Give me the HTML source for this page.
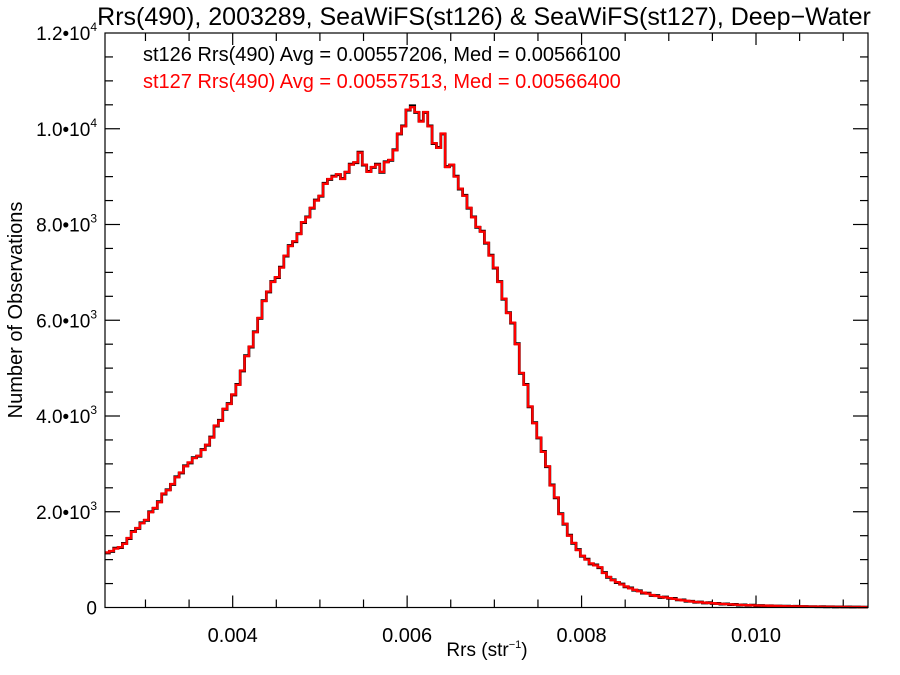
<!DOCTYPE html>
<html><head><meta charset="utf-8"><style>
html,body{margin:0;padding:0;background:#fff;}
svg{display:block;font-family:"Liberation Sans",sans-serif;}
</style></head><body>
<svg id="chart" width="900" height="675" viewBox="0 0 900 675">
<text x="484" y="25" font-size="25" text-anchor="middle">Rrs(490), 2003289, SeaWiFS(st126) &amp; SeaWiFS(st127), Deep−Water</text>
<text x="143" y="61" font-size="20" fill="#000">st126 Rrs(490) Avg = 0.00557206, Med = 0.00566100</text>
<text x="143" y="88" font-size="20" fill="#ff0000">st127 Rrs(490) Avg = 0.00557513, Med = 0.00566400</text>
<text x="487" y="656" font-size="19" text-anchor="middle">Rrs (str<tspan font-size="11" dy="-8">−1</tspan><tspan dy="8">)</tspan></text>
<text transform="translate(22,310) rotate(-90)" font-size="20" text-anchor="middle">Number of Observations</text>
<g id="axes"></g>
<g id="series"></g>
<rect x="105" y="33" width="763" height="574.5" fill="none" stroke="#000" stroke-width="1.2"/>
</svg>
<script>
const binStart = 0.002536;
const binWidth = 0.00005;
const xTicks = [0.004, 0.006, 0.008, 0.010];
const xTickLabels = ["0.004", "0.006", "0.008", "0.010"];
const yTicks = [0, 2000, 4000, 6000, 8000, 10000, 12000];
const yTickMant = ["0", "2.0", "4.0", "6.0", "8.0", "1.0", "1.2"];
const yTickExp = ["", "3", "3", "3", "3", "4", "4"];
const st127Counts = [1150,1180,1230,1260,1330,1450,1580,1660,1760,1830,1990,2080,2200,2380,2450,2580,2720,2820,2950,3030,
3120,3170,3290,3400,3550,3800,3900,4150,4250,4450,4650,4950,5250,5450,5750,6050,6400,6600,6800,6900,
7100,7350,7550,7650,7800,8050,8150,8350,8500,8600,8850,8950,9000,9050,8950,9100,9250,9300,9500,9250,
9100,9200,9250,9100,9300,9350,9550,9900,10050,10400,10450,10350,10150,10350,10050,9700,9600,9900,9200,9250,
9000,8750,8600,8350,8150,7950,7850,7620,7350,7100,6800,6450,6150,5950,5500,4900,4650,4200,3850,3550,
3250,2950,2550,2300,1950,1750,1500,1350,1200,1080,1000,920,880,840,720,640,570,530,480,440,
400,370,340,310,290,260,240,220,210,195,180,165,150,140,125,115,110,100,95,90,
80,75,70,65,60,55,50,48,45,42,40,38,35,33,30,28,26,25,24,22,
20,19,18,17,16,15,14,13,12,12,11,10,10,9,8];
const st126Counts = [1140,1170,1240,1250,1340,1440,1590,1650,1770,1820,2000,2070,2210,2370,2460,2570,2730,2810,2960,3020,
3130,3160,3300,3390,3560,3790,3910,4140,4260,4440,4660,4940,5260,5440,5760,6040,6410,6590,6810,6890,
7110,7340,7560,7640,7810,8040,8160,8340,8510,8590,8860,8940,9010,9040,8960,9090,9260,9290,9510,9240,
9110,9190,9260,9090,9310,9340,9560,9890,10060,10390,10480,10340,10160,10340,10060,9690,9610,9890,9210,9240,
9010,8740,8610,8340,8160,7940,7860,7610,7360,7090,6810,6440,6160,5940,5510,4890,4660,4190,3860,3540,
3260,2940,2560,2290,1960,1740,1510,1340,1210,1070,1010,910,890,830,730,630,580,520,490,430,
410,360,350,300,300,250,250,210,220,190,190,160,160,130,130,110,115,95,100,85,
85,70,75,60,65,50,55,45,50,40,42,36,37,31,32,27,27,24,25,21,
21,18,19,16,17,14,15,12,13,11,12,9,11,8,8];

const X0 = 105, X1 = 868, Y0 = 607.5, Y1 = 33;
const xMin = 0.002536, xMax = 0.011284, yMax = 12000;
const xs = v => X0 + (v - xMin) / (xMax - xMin) * (X1 - X0);
const ys = v => Y0 - v / yMax * (Y0 - Y1);
const NS = "http://www.w3.org/2000/svg";
const axes = document.getElementById("axes");
const series = document.getElementById("series");
function mk(tag, attrs, parent) {
  const e = document.createElementNS(NS, tag);
  for (const k in attrs) e.setAttribute(k, attrs[k]);
  parent.appendChild(e);
  return e;
}
for (let v = 0.003; v < xMax; v += 0.0005) {
  const major = xTicks.some(t => Math.abs(t - v) < 1e-7);
  const len = major ? 12 : 8;
  const x = xs(v);
  const b = mk("line", {x1: x, x2: x, y1: Y0, y2: Y0 - len, stroke: "#000", "stroke-width": 1.2}, axes);
  
  
  const t = mk("line", {x1: x, x2: x, y1: Y1, y2: Y1 + len, stroke: "#000", "stroke-width": 1.2}, axes);
  
  
}
xTicks.forEach((v, i) => {
  const lab = mk("text", {x: xs(v), y: 642, "font-size": 20, "text-anchor": "middle"}, axes);
  lab.textContent = xTickLabels[i];
  
  
});
for (let v = 500; v < yMax; v += 500) {
  const major = v % 2000 === 0;
  const len = major ? 15 : 8;
  const y = ys(v);
  const l = mk("line", {x1: X0, x2: X0 + len, y1: y, y2: y, stroke: "#000", "stroke-width": 1.2}, axes);
  
  
  const r = mk("line", {x1: X1, x2: X1 - len, y1: y, y2: y, stroke: "#000", "stroke-width": 1.2}, axes);
  
  
}
yTicks.forEach((v, i) => {
  const lab = mk("text", {x: 97, y: ys(v) + 7, "font-size": 19, "text-anchor": "end"}, axes);
  
  
  if (yTickExp[i]) {
    lab.textContent = yTickMant[i] + "•10";
    const sup = mk("tspan", {"font-size": 12, dy: -9}, lab);
    sup.textContent = yTickExp[i];
  } else lab.textContent = yTickMant[i];
});
function stepPath(arr) {
  let d = "";
  arr.forEach((c, i) => {
    const xa = xs(binStart + i * binWidth), xb = xs(binStart + (i + 1) * binWidth);
    const y = ys(c);
    d += (i === 0 ? "M" : "L") + Math.max(xa, X0).toFixed(2) + "," + y.toFixed(2) + "L" + Math.min(xb, X1).toFixed(2) + "," + y.toFixed(2);
  });
  return d;
}
const p1 = mk("path", {d: stepPath(st126Counts), fill: "none", stroke: "#000", "stroke-width": 2.8}, series);


const p2 = mk("path", {d: stepPath(st127Counts), fill: "none", stroke: "#ff0000", "stroke-width": 2.3}, series);


</script>
</body></html>
